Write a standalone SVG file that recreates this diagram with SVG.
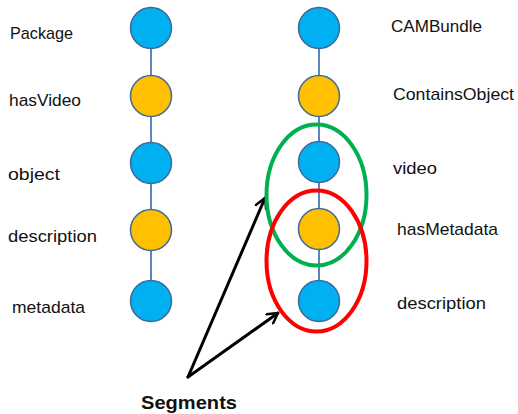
<svg xmlns="http://www.w3.org/2000/svg" width="518" height="414" viewBox="0 0 518 414">
<defs>
<style>
.lbl{font-family:"Liberation Sans",Arial,sans-serif;font-size:17px;fill:#111}
.b{fill:#00B0F0;stroke:#3E6A99;stroke-width:1.5}
.o{fill:#FFC000;stroke:#3E6A99;stroke-width:1.5}
.ln{stroke:#5B86BE;stroke-width:2}
.arr{stroke:#000;stroke-width:3;fill:none;stroke-linecap:round;stroke-linejoin:round}
</style>
<marker id="ah" viewBox="0 0 12 12" refX="10" refY="6" markerWidth="4.5" markerHeight="4.5" orient="auto" markerUnits="strokeWidth">
<path d="M1,1 L10,6 L1,11" fill="none" stroke="#000" stroke-width="2.2" stroke-linecap="round" stroke-linejoin="round"/>
</marker>
</defs>
<rect width="518" height="414" fill="#fff"/>
<g id="connectors">
<line class="ln" x1="151" y1="28" x2="151" y2="301"/>
<line class="ln" x1="319" y1="28" x2="319" y2="301"/>
<line class="arr" x1="188" y1="377" x2="265" y2="198" marker-end="url(#ah)"/>
<line class="arr" x1="188" y1="377" x2="278" y2="313" marker-end="url(#ah)"/>
</g>
<g id="left-package"><circle class="b" cx="151" cy="28" r="20.5"/><text class="lbl" x="10" y="39" textLength="63" lengthAdjust="spacingAndGlyphs">Package</text></g>
<g id="left-hasVideo"><circle class="o" cx="151" cy="96" r="20.5"/><text class="lbl" x="9" y="106" textLength="72" lengthAdjust="spacingAndGlyphs">hasVideo</text></g>
<g id="left-object"><circle class="b" cx="151" cy="163" r="20.5"/><text class="lbl" x="8" y="180" textLength="52" lengthAdjust="spacingAndGlyphs">object</text></g>
<g id="left-description"><circle class="o" cx="151" cy="230" r="20.5"/><text class="lbl" x="8" y="242" textLength="89" lengthAdjust="spacingAndGlyphs">description</text></g>
<g id="left-metadata"><circle class="b" cx="151" cy="301" r="20.5"/><text class="lbl" x="12" y="313" textLength="73" lengthAdjust="spacingAndGlyphs">metadata</text></g>
<g id="right-CAMBundle"><circle class="b" cx="319" cy="28" r="20.5"/><text class="lbl" x="391" y="32" textLength="91" lengthAdjust="spacingAndGlyphs">CAMBundle</text></g>
<g id="right-ContainsObject"><circle class="o" cx="319" cy="96" r="20.5"/><text class="lbl" x="393" y="100" textLength="121" lengthAdjust="spacingAndGlyphs">ContainsObject</text></g>
<g id="right-video"><circle class="b" cx="319" cy="162" r="20.5"/><text class="lbl" x="393" y="174" textLength="44" lengthAdjust="spacingAndGlyphs">video</text></g>
<g id="right-hasMetadata"><circle class="o" cx="319" cy="229" r="20.5"/><text class="lbl" x="397" y="235" textLength="101" lengthAdjust="spacingAndGlyphs">hasMetadata</text></g>
<g id="right-description"><circle class="b" cx="319" cy="301" r="20.5"/><text class="lbl" x="397" y="309" textLength="89" lengthAdjust="spacingAndGlyphs">description</text></g>
<g id="segments">
<ellipse cx="316.5" cy="195" rx="50" ry="70.5" fill="none" stroke="#00B050" stroke-width="4"/>
<ellipse cx="316.5" cy="261" rx="50" ry="70.5" fill="none" stroke="#FF0000" stroke-width="4"/>
<text x="141" y="409" textLength="96" lengthAdjust="spacingAndGlyphs" style="font-family:'Liberation Sans',Arial,sans-serif;font-size:19px;font-weight:bold;fill:#111">Segments</text>
</g>
</svg>
